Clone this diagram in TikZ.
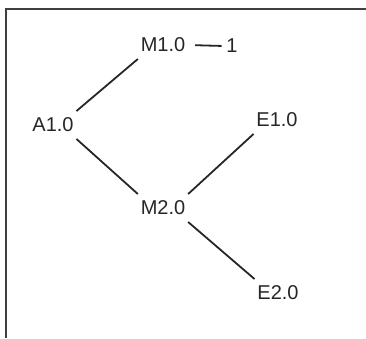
\documentclass[tikz,border=0pt]{standalone}
\usepackage{fontspec}
\setmainfont{Liberation Sans}

\begin{document}
\begin{tikzpicture}[x=1pt, y=-1pt, line width=1.8pt,
  nodo/.style={text=black!85, font=\fontsize{20}{24}\selectfont, inner xsep=2pt, inner ysep=6pt},
  rama/.style={draw=black!85}]
  \useasboundingbox (0,0) rectangle (366,338);
  % marco (solo se ven los lados izquierdo y superior)
  \draw[black!75, line width=1.8pt] (6,338) -- (6,9) -- (366,9);
  % nodos del arbol
  \node[nodo] (A1) at (53,125) {A1.0};
  \node[nodo] (M1) at (163,45) {M1.0};
  \node[nodo] (uno) at (232,46) {1};
  \node[nodo] (M2) at (163,208) {M2.0};
  \node[nodo] (E1) at (277,120) {E1.0};
  \node[nodo] (E2) at (278,293) {E2.0};
  % ramas
  \draw[rama] (A1.north east) -- (M1.south west);
  \draw[rama] (A1.south east) -- (M2.north west);
  \draw[rama] (M2.north east) -- (E1.south west);
  \draw[rama] (M2.south east) -- (E2.north west);
  \draw[rama, shorten <=7pt, shorten >=2pt] (M1.east) -- (uno.west);
\end{tikzpicture}
\end{document}
